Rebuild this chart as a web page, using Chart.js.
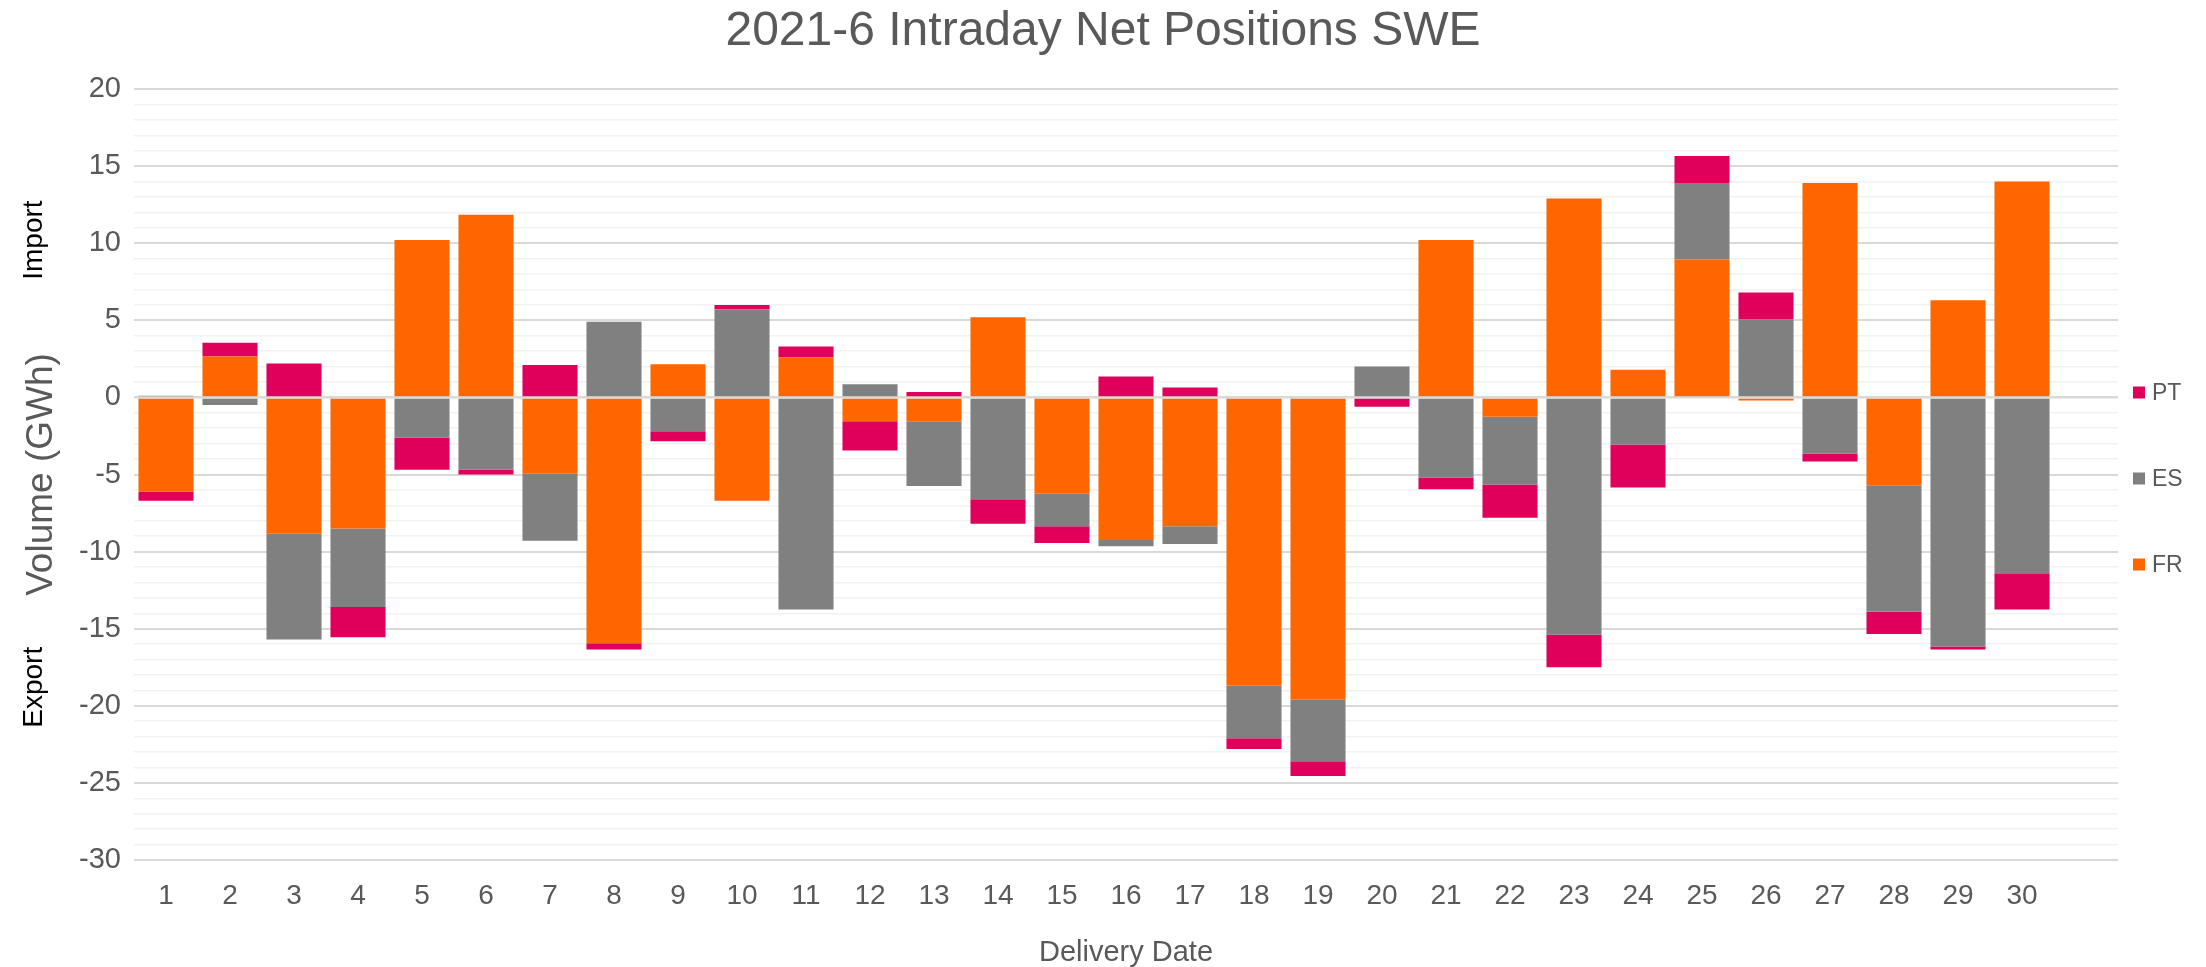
<!DOCTYPE html>
<html>
<head>
<meta charset="utf-8">
<title>2021-6 Intraday Net Positions SWE</title>
<script src="https://cdn.jsdelivr.net/npm/chart.js@4.4.1/dist/chart.umd.min.js"></script>
<style>
  body { margin: 0; background: #ffffff; }
  #wrap { width: 2206px; height: 967px; position: relative; }
</style>
</head>
<body>
<div id="wrap"><canvas id="netPositionsChart"></canvas></div>
<script>
// Delivery days (June has 30 days, the sheet keeps an empty 31st slot)
const days = ["1", "2", "3", "4", "5", "6", "7", "8", "9", "10",
  "11", "12", "13", "14", "15", "16", "17", "18", "19", "20",
  "21", "22", "23", "24", "25", "26", "27", "28", "29", "30", ""];

// Net positions in GWh
const frValues = [-6.1, 2.65, -8.85, -8.5, 10.2, 11.85, -4.95, -15.95, 2.15, -6.7,
  2.6, -1.55, -1.55, 5.2, -6.25, -9.25, -8.35, -18.7, -19.6, 0,
  10.2, -1.25, 12.9, 1.8, 8.95, -0.2, 13.9, -5.7, 6.3, 14.0];
const esValues = [0.1, -0.5, -6.85, -5.1, -2.6, -4.7, -4.35, 4.9, -2.2, 5.7,
  -13.75, 0.85, -4.2, -6.6, -2.1, -0.4, -1.15, -3.4, -4.0, 2.0,
  -5.2, -4.4, -15.4, -3.05, 4.95, 5.05, -3.65, -8.2, -16.15, -11.4];
const ptValues = [-0.6, 0.9, 2.2, -1.95, -2.1, -0.3, 2.1, -0.4, -0.65, 0.3,
  0.7, -1.9, 0.35, -1.6, -1.1, 1.35, 0.65, -0.7, -0.95, -0.6,
  -0.75, -2.15, -2.1, -2.8, 1.75, 1.75, -0.5, -1.45, -0.2, -2.35];

const yMin = -30;
const yMax = 20;

const chartTitle = "2021-6 Intraday Net Positions SWE";
const GREY_TEXT = "#595959";
const FONT = "'Liberation Sans', Arial, sans-serif";
Chart.defaults.font.family = FONT;
Chart.defaults.color = GREY_TEXT;

// title centred on the whole picture, not on the plot
const pageTitlePlugin = {
  id: "pageTitle",
  afterDraw(chart) {
    const ctx = chart.ctx;
    ctx.save();
    ctx.fillStyle = GREY_TEXT;
    ctx.font = "48px " + FONT;
    ctx.textAlign = "center";
    ctx.textBaseline = "middle";
    ctx.fillText(chartTitle, chart.width / 2, 32);
    ctx.restore();
  },
};

// zero axis line sits over the bars like in Excel
const zeroLinePlugin = {
  id: "zeroLine",
  afterDatasetsDraw(chart) {
    const y = chart.scales.y.getPixelForValue(0);
    const { left, right } = chart.chartArea;
    const ctx = chart.ctx;
    ctx.save();
    ctx.strokeStyle = "#D9D9D9";
    ctx.lineWidth = 2;
    ctx.beginPath();
    ctx.moveTo(left, y);
    ctx.lineTo(right, y);
    ctx.stroke();
    ctx.restore();
  },
};

// Import / Export hints next to the y axis
const sideLabelsPlugin = {
  id: "sideLabels",
  afterDraw(chart) {
    const ctx = chart.ctx;
    const yScale = chart.scales.y;
    const labels = [["Import", 10.2], ["Export", -18.8]];
    ctx.save();
    ctx.fillStyle = "#000000";
    ctx.font = "28px " + FONT;
    ctx.textAlign = "center";
    ctx.textBaseline = "middle";
    labels.forEach(([text, value]) => {
      ctx.save();
      ctx.translate(34, yScale.getPixelForValue(value));
      ctx.rotate(-Math.PI / 2);
      ctx.fillText(text, 0, 0);
      ctx.restore();
    });
    ctx.restore();
  },
};

// widely spaced legend on the right, PT on top
const sideLegendPlugin = {
  id: "sideLegend",
  afterDraw(chart) {
    const ctx = chart.ctx;
    const area = chart.chartArea;
    const items = chart.data.datasets.slice().reverse();
    const spacing = 86;
    const centerY = (area.top + area.bottom) / 2 + 4;
    const startY = centerY - spacing * (items.length - 1) / 2;
    const boxX = area.right + 15;
    ctx.save();
    ctx.font = "23px " + FONT;
    ctx.textBaseline = "middle";
    ctx.textAlign = "left";
    items.forEach((ds, i) => {
      const y = startY + i * spacing;
      ctx.fillStyle = ds.backgroundColor;
      ctx.fillRect(boxX, y - 6, 12, 12);
      ctx.fillStyle = GREY_TEXT;
      ctx.fillText(ds.label, boxX + 19, y + 1);
    });
    ctx.restore();
  },
};

function createNetPositionsChart() {
  const ctx = document.getElementById("netPositionsChart").getContext("2d");
  return new Chart(ctx, {
    type: "bar",
    data: {
      labels: days,
      datasets: [
        { label: "FR", data: frValues, backgroundColor: "#FF6600" },
        { label: "ES", data: esValues, backgroundColor: "#808080" },
        { label: "PT", data: ptValues, backgroundColor: "#E0005B" },
      ],
    },
    options: {
      responsive: true,
      maintainAspectRatio: false,
      animation: false,
      categoryPercentage: 0.86,
      barPercentage: 1,
      layout: { padding: { left: 0, right: 88, top: 89, bottom: 0 } },
      plugins: {
        legend: { display: false },
        tooltip: { enabled: false },
        title: { display: false },
      },
      scales: {
        x: {
          stacked: true,
          grid: { display: false },
          border: { display: false },
          ticks: { color: GREY_TEXT, font: { size: 28 }, padding: 11, maxRotation: 0, autoSkip: false },
          title: {
            display: true,
            text: "Delivery Date",
            color: GREY_TEXT,
            font: { size: 29, lineHeight: 1 },
            padding: { top: 0, bottom: 0 },
          },
          afterFit: (scale) => { scale.height = 107; },
        },
        y: {
          stacked: true,
          min: yMin,
          max: yMax,
          border: { display: false },
          grid: {
            drawTicks: false,
            color: (c) => (c.tick.value % 5 === 0 ? "#D9D9D9" : "#F2F2F2"),
            lineWidth: (c) => (c.tick.value % 5 === 0 ? 2 : 1.5),
          },
          ticks: {
            stepSize: 1,
            autoSkip: false,
            padding: 13,
            color: GREY_TEXT,
            font: { size: 29 },
            callback: (v) => (v % 5 === 0 ? v : ""),
          },
          title: {
            display: true,
            text: "Volume (GWh)",
            color: GREY_TEXT,
            font: { size: 37, lineHeight: 1 },
            padding: { top: 23, bottom: 0 },
          },
          afterFit: (scale) => { scale.width = 134; },
        },
      },
    },
    plugins: [pageTitlePlugin, zeroLinePlugin, sideLabelsPlugin, sideLegendPlugin],
  });
}

document.addEventListener("DOMContentLoaded", () => {
  createNetPositionsChart();
});
</script>
</body>
</html>
